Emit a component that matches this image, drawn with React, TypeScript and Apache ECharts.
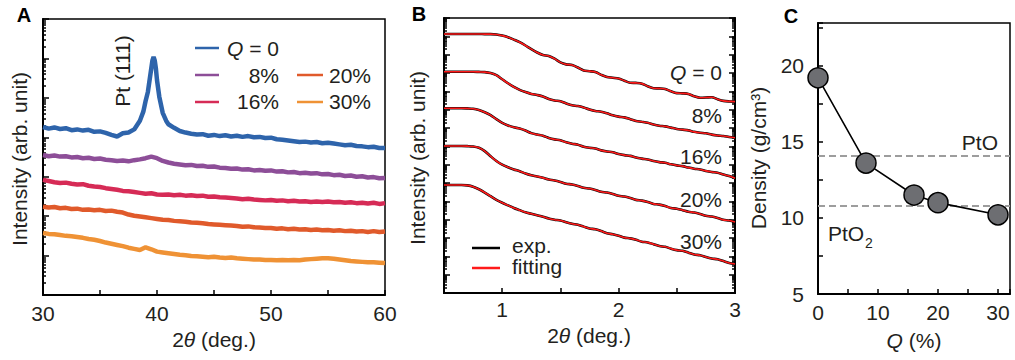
import React, { useEffect, useRef } from "react";
import * as echarts from "echarts";

// ---------- Panel A: XRD, [2θ (deg), log10 intensity] ----------
const xrdQ0 = [
  [30, 4.26], [30.5, 4.22], [31, 4.25], [31.5, 4.21], [32, 4.23], [32.5, 4.18], [33, 4.2], [33.5, 4.17],
  [34, 4.19], [34.5, 4.14], [35, 4.15], [35.5, 4.11], [36, 4.06], [36.5, 4.02], [37, 4.1], [37.5, 4.12],
  [38, 4.2], [38.5, 4.42], [38.8, 4.65], [39.0, 4.92], [39.2, 5.15], [39.4, 5.55], [39.6, 5.95], [39.7, 6.04],
  [39.8, 5.95], [39.9, 5.75], [40.0, 5.45], [40.2, 5.03], [40.5, 4.62], [40.8, 4.42], [41, 4.33], [41.5, 4.24],
  [42, 4.16], [42.5, 4.12], [43, 4.09], [43.5, 4.07], [44, 4.08], [44.5, 4.04], [45, 4.06], [45.5, 4.03],
  [46, 4.05], [46.5, 4.02], [47, 4.04], [47.5, 4.01], [48, 4.03], [48.5, 4.0], [49, 4.01], [49.5, 3.98],
  [50, 3.99], [50.5, 3.95], [51, 3.94], [51.5, 3.92], [52, 3.9], [52.5, 3.88], [53, 3.89], [53.5, 3.87],
  [54, 3.88], [54.5, 3.85], [55, 3.86], [55.5, 3.84], [56, 3.82], [56.5, 3.8], [57, 3.81], [57.5, 3.78],
  [58, 3.77], [58.5, 3.75], [59, 3.76], [59.5, 3.73], [60, 3.73],
];
const xrdQ8 = [
  [30, 3.55], [30.5, 3.52], [31, 3.54], [31.5, 3.51], [32, 3.52], [32.5, 3.49], [33, 3.5], [33.5, 3.47],
  [34, 3.48], [34.5, 3.45], [35, 3.46], [35.5, 3.43], [36, 3.42], [36.5, 3.4], [37, 3.41], [37.5, 3.39],
  [38, 3.42], [38.5, 3.44], [39, 3.47], [39.5, 3.51], [40, 3.47], [40.5, 3.4], [41, 3.36], [41.5, 3.33],
  [42, 3.31], [42.5, 3.29], [43, 3.3], [43.5, 3.27], [44, 3.28], [44.5, 3.25], [45, 3.26], [45.5, 3.23],
  [46, 3.22], [46.5, 3.2], [47, 3.21], [47.5, 3.18], [48, 3.19], [48.5, 3.16], [49, 3.17], [49.5, 3.15],
  [50, 3.16], [50.5, 3.13], [51, 3.14], [51.5, 3.11], [52, 3.12], [52.5, 3.09], [53, 3.1], [53.5, 3.08],
  [54, 3.09], [54.5, 3.06], [55, 3.07], [55.5, 3.04], [56, 3.05], [56.5, 3.02], [57, 3.03], [57.5, 3.0],
  [58, 3.01], [58.5, 2.98], [59, 2.99], [59.5, 2.96], [60, 2.97],
];
const xrdQ16 = [
  [30, 2.92], [30.5, 2.89], [31, 2.86], [31.5, 2.84], [32, 2.85], [32.5, 2.82], [33, 2.8], [33.5, 2.81],
  [34, 2.77], [34.5, 2.75], [35, 2.74], [35.5, 2.71], [36, 2.69], [36.5, 2.67], [37, 2.64], [37.5, 2.63],
  [38, 2.61], [38.5, 2.59], [39, 2.57], [39.5, 2.58], [40, 2.55], [40.5, 2.54], [41, 2.55], [41.5, 2.53],
  [42, 2.54], [42.5, 2.52], [43, 2.53], [43.5, 2.51], [44, 2.52], [44.5, 2.49], [45, 2.5], [45.5, 2.48],
  [46, 2.47], [46.5, 2.46], [47, 2.45], [47.5, 2.43], [48, 2.44], [48.5, 2.42], [49, 2.41], [49.5, 2.4],
  [50, 2.41], [50.5, 2.39], [51, 2.4], [51.5, 2.38], [52, 2.39], [52.5, 2.37], [53, 2.38], [53.5, 2.36],
  [54, 2.37], [54.5, 2.36], [55, 2.37], [55.5, 2.35], [56, 2.36], [56.5, 2.34], [57, 2.35], [57.5, 2.33],
  [58, 2.34], [58.5, 2.32], [59, 2.34], [59.5, 2.31], [60, 2.33],
];
const xrdQ20 = [
  [30, 2.24], [30.5, 2.22], [31, 2.23], [31.5, 2.2], [32, 2.21], [32.5, 2.18], [33, 2.19], [33.5, 2.16],
  [34, 2.17], [34.5, 2.15], [35, 2.16], [35.5, 2.13], [36, 2.14], [36.5, 2.11], [37, 2.09], [37.5, 2.04],
  [38, 2.01], [38.5, 1.99], [39, 1.97], [39.5, 1.95], [40, 1.93], [40.5, 1.91], [41, 1.9], [41.5, 1.88],
  [42, 1.87], [42.5, 1.86], [43, 1.84], [43.5, 1.83], [44, 1.82], [44.5, 1.8], [45, 1.79], [45.5, 1.78],
  [46, 1.77], [46.5, 1.76], [47, 1.75], [47.5, 1.73], [48, 1.74], [48.5, 1.72], [49, 1.71], [49.5, 1.7],
  [50, 1.7], [50.5, 1.68], [51, 1.69], [51.5, 1.67], [52, 1.68], [52.5, 1.66], [53, 1.67], [53.5, 1.65],
  [54, 1.66], [54.5, 1.64], [55, 1.65], [55.5, 1.63], [56, 1.64], [56.5, 1.62], [57, 1.63], [57.5, 1.61],
  [58, 1.62], [58.5, 1.6], [59, 1.62], [59.5, 1.6], [60, 1.61],
];
const xrdQ30 = [
  [30, 1.57], [30.5, 1.55], [31, 1.54], [31.5, 1.52], [32, 1.5], [32.5, 1.49], [33, 1.47], [33.5, 1.45],
  [34, 1.42], [34.5, 1.4], [35, 1.37], [35.5, 1.33], [36, 1.3], [36.5, 1.27], [37, 1.24], [37.5, 1.2],
  [38, 1.17], [38.5, 1.14], [39, 1.21], [39.5, 1.16], [40, 1.1], [40.5, 1.08], [41, 1.06], [41.5, 1.04],
  [42, 1.02], [42.5, 1.01], [43, 0.99], [43.5, 0.98], [44, 0.97], [44.5, 0.96], [45, 0.97], [45.5, 0.95],
  [46, 0.94], [46.5, 0.95], [47, 0.93], [47.5, 0.92], [48, 0.91], [48.5, 0.9], [49, 0.9], [49.5, 0.89],
  [50, 0.89], [50.5, 0.88], [51, 0.89], [51.5, 0.88], [52, 0.89], [52.5, 0.88], [53, 0.9], [53.5, 0.91],
  [54, 0.92], [54.5, 0.93], [55, 0.93], [55.5, 0.92], [56, 0.9], [56.5, 0.88], [57, 0.86], [57.5, 0.85],
  [58, 0.84], [58.5, 0.83], [59, 0.83], [59.5, 0.82], [60, 0.81],
];
const xrdSeries = [
  { name: "Q = 0", data: xrdQ0, color: "#2e64ab" },
  { name: "8%", data: xrdQ8, color: "#8d4e98" },
  { name: "16%", data: xrdQ16, color: "#d62b56" },
  { name: "20%", data: xrdQ20, color: "#e05a2b" },
  { name: "30%", data: xrdQ30, color: "#ef9235" },
];

// ---------- Panel B: XRR, log10 intensity on a shared 2θ grid ----------
const xrrAngles = [
  0.5, 0.55, 0.6, 0.65, 0.7, 0.75, 0.8, 0.85, 0.9, 0.95,
  1.0, 1.05, 1.1, 1.15, 1.2, 1.25, 1.3, 1.35, 1.4, 1.45,
  1.5, 1.55, 1.6, 1.65, 1.7, 1.75, 1.8, 1.85, 1.9, 1.95,
  2.0, 2.05, 2.1, 2.15, 2.2, 2.25, 2.3, 2.35, 2.4, 2.45,
  2.5, 2.55, 2.6, 2.65, 2.7, 2.75, 2.8, 2.85, 2.9, 2.95, 3.0,
];
const xrrQ0 = [
  14.13, 14.13, 14.13, 14.13, 14.13, 14.13, 14.13, 14.12, 14.12, 14.1,
  14.04, 13.95, 13.82, 13.68, 13.5, 13.3, 13.12, 12.98, 12.93, 12.78,
  12.58, 12.47, 12.44, 12.3, 12.14, 12.1, 12.05, 11.9, 11.78, 11.74,
  11.7, 11.58, 11.47, 11.46, 11.42, 11.28, 11.17, 11.16, 11.13, 11.0,
  10.9, 10.89, 10.86, 10.73, 10.65, 10.66, 10.68, 10.57, 10.48, 10.45, 10.44,
];
const xrrQ8 = [
  12.07, 12.07, 12.07, 12.07, 12.07, 12.07, 12.06, 12.05, 12.0, 11.88,
  11.66, 11.44, 11.24, 11.08, 10.96, 10.86, 10.8, 10.72, 10.58, 10.5,
  10.46, 10.34, 10.24, 10.2, 10.12, 10.01, 9.93, 9.89, 9.8, 9.69,
  9.62, 9.58, 9.48, 9.38, 9.34, 9.29, 9.19, 9.12, 9.09, 9.02,
  8.95, 8.91, 8.87, 8.79, 8.74, 8.71, 8.64, 8.59, 8.56, 8.51, 8.47,
];
const xrrQ16 = [
  10.08, 10.08, 10.08, 10.08, 10.07, 10.05, 9.98, 9.86, 9.7, 9.48,
  9.28, 9.14, 9.04, 8.97, 8.86, 8.72, 8.64, 8.58, 8.46, 8.38,
  8.33, 8.22, 8.14, 8.09, 7.98, 7.92, 7.88, 7.78, 7.72, 7.68,
  7.58, 7.52, 7.48, 7.39, 7.33, 7.28, 7.2, 7.14, 7.1, 7.02,
  6.96, 6.92, 6.84, 6.78, 6.74, 6.66, 6.6, 6.56, 6.46, 6.38, 6.26,
];
const xrrQ20 = [
  8.02, 8.02, 8.02, 8.02, 8.01, 7.99, 7.92, 7.74, 7.46, 7.2,
  7.0, 6.86, 6.74, 6.64, 6.52, 6.42, 6.36, 6.28, 6.19, 6.14,
  6.06, 5.96, 5.92, 5.84, 5.74, 5.7, 5.62, 5.52, 5.48, 5.4,
  5.3, 5.26, 5.18, 5.08, 5.04, 4.96, 4.86, 4.82, 4.74, 4.64,
  4.6, 4.52, 4.43, 4.39, 4.31, 4.21, 4.17, 4.09, 3.99, 3.95, 3.87,
];
const xrrQ30 = [
  5.89, 5.89, 5.89, 5.89, 5.87, 5.8, 5.66, 5.48, 5.28, 5.08,
  4.92, 4.78, 4.64, 4.52, 4.4, 4.32, 4.24, 4.16, 4.06, 4.0,
  3.95, 3.86, 3.78, 3.72, 3.62, 3.52, 3.48, 3.38, 3.26, 3.2,
  3.12, 3.02, 2.98, 2.9, 2.8, 2.76, 2.66, 2.56, 2.52, 2.42,
  2.34, 2.3, 2.2, 2.1, 2.06, 1.96, 1.88, 1.84, 1.74, 1.64, 1.58,
];
const xrrCurves = [xrrQ0, xrrQ8, xrrQ16, xrrQ20, xrrQ30];
const xrrLabels = ["Q = 0", "8%", "16%", "20%", "30%"];

// ---------- Panel C: density ----------
const oxygenQ = [0, 8, 16, 20, 30];
const density = [19.2, 13.6, 11.5, 11.0, 10.2];
const refLines = [
  { name: "PtO", value: 14.1 },
  { name: "PtO2", value: 10.8 },
];

const FONT = "'Liberation Sans', Arial, Helvetica, sans-serif";
const TXT = "#231f20";
const FS = 21;

const tickStyle = { color: "#000", width: 1.5 };
const lineAxis = { show: true, onZero: false, lineStyle: { color: "#000", width: 2 } };

function txt(x: number, y: number, text: string, align = "left", extra: any = {}) {
  return {
    type: "text",
    x,
    y,
    silent: true,
    ...extra,
    style: {
      text,
      fill: TXT,
      font: `${FS}px ${FONT}`,
      align,
      verticalAlign: "middle",
      ...(extra.style || {}),
    },
  };
}
const rich = {
  n: { fontSize: FS, fontFamily: FONT, fill: TXT },
  i: { fontSize: FS, fontFamily: FONT, fill: TXT, fontStyle: "italic" },
};
function legLine(x1: number, x2: number, y: number, color: string) {
  return {
    type: "line",
    silent: true,
    shape: { x1, y1: y, x2, y2: y },
    style: { stroke: color, lineWidth: 2.5 },
  };
}

export default function App() {
  const ref = useRef<HTMLDivElement>(null);
  useEffect(() => {
    if (!ref.current) return;
    const chart = echarts.init(ref.current, null, { renderer: "svg" });
    const pow = (v: number) => Math.pow(10, v);

    const logY = (grid: number, max: number, position = "left") => ({
      gridIndex: grid,
      type: "log",
      logBase: 10,
      position,
      min: 1,
      max: pow(max),
      interval: 1,
      axisLine: lineAxis,
      axisTick: { show: true, inside: true, length: 6, lineStyle: tickStyle },
      minorTick: { show: true, splitNumber: 9, length: 3, lineStyle: tickStyle },
      axisLabel: { show: false },
      splitLine: { show: false },
      minorSplitLine: { show: false },
    });

    const series: any[] = [];
    xrdSeries.forEach((s) => {
      series.push({
        type: "line",
        xAxisIndex: 0,
        yAxisIndex: 0,
        name: s.name,
        showSymbol: false,
        data: s.data.map((p) => [p[0], pow(p[1])]),
        lineStyle: { color: s.color, width: 4.5 },
        itemStyle: { color: s.color },
      });
    });
    xrrCurves.forEach((c) => {
      const d = xrrAngles.map((a, i) => [a, pow(c[i])]);
      series.push({
        type: "line", xAxisIndex: 1, yAxisIndex: 1, showSymbol: false, smooth: 0.3,
        data: d, lineStyle: { color: "#000", width: 2.6 }, z: 2,
      });
      series.push({
        type: "line", xAxisIndex: 1, yAxisIndex: 1, showSymbol: false, smooth: 0.3,
        data: d, lineStyle: { color: "#ff1a1a", width: 1.6 }, z: 3,
      });
    });
    series.push({
      type: "line",
      xAxisIndex: 2,
      yAxisIndex: 3,
      data: [],
      markLine: {
        silent: true,
        symbol: "none",
        z: 1,
        label: { show: false },
        lineStyle: { color: "#9d9d9d", type: [7, 4], width: 2 },
        data: refLines.map((r) => ({ yAxis: r.value })),
      },
    });
    series.push({
      type: "line",
      xAxisIndex: 2,
      yAxisIndex: 3,
      z: 5,
      data: oxygenQ.map((q, i) => [q, density[i]]),
      symbol: "circle",
      symbolSize: 20,
      lineStyle: { color: "#000", width: 1.6 },
      itemStyle: { color: "#6d6e72", borderColor: "#000", borderWidth: 1.5 },
    });

    const option: any = {
      animation: false,
      grid: [
        { left: 43, top: 19, width: 342, height: 276, show: true, borderColor: "#000", borderWidth: 1.5, backgroundColor: "transparent" },
        { left: 444, top: 18, width: 291, height: 275, show: true, borderColor: "#000", borderWidth: 1.5, backgroundColor: "transparent" },
        { left: 818, top: 23, width: 192, height: 271, show: true, borderColor: "#000", borderWidth: 1.5, backgroundColor: "transparent" },
      ],
      xAxis: [
        {
          gridIndex: 0, type: "value", min: 30, max: 60, interval: 10,
          axisLine: lineAxis,
          axisTick: { inside: true, length: 5, lineStyle: tickStyle },
          minorTick: { show: true, splitNumber: 2, length: 5, lineStyle: tickStyle },
          axisLabel: { fontSize: FS, fontFamily: FONT, color: TXT, margin: 8 },
          splitLine: { show: false },
        },
        {
          gridIndex: 1, type: "value", min: 0.5, max: 3, interval: 0.5,
          axisLine: lineAxis,
          axisTick: { inside: true, length: 5, lineStyle: tickStyle },
          axisLabel: {
            fontSize: FS, fontFamily: FONT, color: TXT, margin: 6,
            formatter: (v: number) => (Math.abs(v - Math.round(v)) < 1e-6 ? String(Math.round(v)) : ""),
          },
          splitLine: { show: false },
        },
        {
          gridIndex: 2, type: "value", min: 0, max: 32, interval: 5,
          axisLine: lineAxis,
          axisTick: { inside: true, length: 5, lineStyle: tickStyle },
          axisLabel: {
            fontSize: FS, fontFamily: FONT, color: TXT, margin: 8,
            formatter: (v: number) => (v % 10 === 0 ? String(v) : ""),
          },
          splitLine: { show: false },
        },
      ],
      yAxis: [
        logY(0, 7),
        logY(1, 15),
        logY(1, 15, "right"),
        {
          gridIndex: 2, type: "value", min: 5, max: 22.8, interval: 2.5,
          axisLine: lineAxis,
          axisTick: { inside: true, length: 5, lineStyle: tickStyle },
          axisLabel: {
            fontSize: FS, fontFamily: FONT, color: TXT, margin: 14,
            formatter: (v: number) => (Math.abs(v % 5) < 1e-6 ? String(v) : ""),
          },
          splitLine: { show: false },
        },
      ],
      series,
      graphic: [
        // panel letters
        txt(24, 15, "A", "center", { style: { font: `bold 20px ${FONT}`, fill: "#000" } }),
        txt(419, 14, "B", "center", { style: { font: `bold 20px ${FONT}`, fill: "#000" } }),
        txt(791, 16, "C", "center", { style: { font: `bold 20px ${FONT}`, fill: "#000" } }),
        // axis titles
        txt(19, 159, "Intensity (arb. unit)", "center", { rotation: Math.PI / 2 }),
        txt(417, 158, "Intensity (arb. unit)", "center", { rotation: Math.PI / 2 }),
        txt(758, 158, "Density (g/cm\u00B3)", "center", { rotation: Math.PI / 2 }),
        txt(214, 339, "", "center", { style: { text: "{n|2}{i|\u03B8}{n| (deg.)}", rich } }),
        txt(589, 335, "", "center", { style: { text: "{n|2}{i|\u03B8}{n| (deg.)}", rich } }),
        txt(914, 340, "", "center", { style: { text: "{i|Q}{n| (%)}", rich } }),
        // panel A legend
        legLine(195, 219, 48, xrdSeries[0].color),
        legLine(195, 219, 75, xrdSeries[1].color),
        legLine(195, 219, 102, xrdSeries[2].color),
        legLine(297, 323, 75, xrdSeries[3].color),
        legLine(297, 323, 102, xrdSeries[4].color),
        txt(227, 48, "", "left", { style: { text: "{i|Q}{n| = 0}", rich } }),
        txt(279, 75, "8%", "right"),
        txt(279, 101, "16%", "right"),
        txt(329, 75, "20%", "left"),
        txt(329, 101, "30%", "left"),
        txt(122, 71, "Pt (111)", "center", { rotation: Math.PI / 2 }),
        // panel B labels
        txt(722, 72, "", "right", { style: { text: "{i|Q}{n| = 0}", rich } }),
        txt(722, 115, xrrLabels[1], "right"),
        txt(722, 156, xrrLabels[2], "right"),
        txt(722, 199, xrrLabels[3], "right"),
        txt(722, 241, xrrLabels[4], "right"),
        legLine(472, 500, 248, "#000"),
        legLine(472, 500, 268, "#ff1a1a"),
        txt(512, 245, "exp.", "left"),
        txt(512, 266, "fitting", "left"),
        // panel C labels
        txt(998, 142, "PtO", "right"),
        txt(828, 233, "PtO", "left"),
        txt(865, 243, "2", "left", { style: { font: `14px ${FONT}` } }),
      ],
    };
    chart.setOption(option);
    return () => chart.dispose();
  }, []);
  return (
    <div
      ref={ref}
      style={{ position: "fixed", left: 0, top: 0, width: 1015, height: 360, background: "#fff" }}
    />
  );
}
